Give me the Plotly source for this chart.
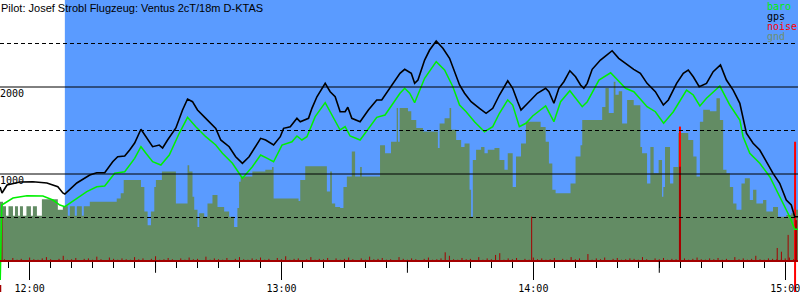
import pandas as pd
import plotly.graph_objects as go

TITLE = "Pilot: Josef Strobl Flugzeug: Ventus 2cT/18m D-KTAS"
BASE = pd.Timestamp("2000-01-01 12:00:00")

# ---- data (minutes after 12:00, altitude in m) ----
gps_min = [-7.06, -6.58, -5.39, -2.30, 0.78, 4.11, 6.72, 7.91, 8.39, 11.24, 14.33, 15.99, 17.89, 19.79, 20.98,
           22.65, 23.83, 25.02, 26.52, 27.71, 29.30, 30.89, 31.68, 32.86, 34.84, 36.43, 37.62, 38.80, 39.99, 41.96,
           44.34, 45.53, 47.53, 49.09, 50.69, 52.28, 53.85, 55.03, 56.22, 58.12, 59.71, 60.50, 62.09, 63.68, 64.47,
           66.44, 67.25, 68.44, 70.41, 71.60, 72.79, 73.97, 75.16, 75.80, 76.75, 78.73, 80.70, 82.69, 83.88, 85.85,
           88.23, 89.35, 90.92, 91.72, 92.51, 94.10, 95.29, 96.86, 98.45, 100.04, 101.23, 102.42, 103.61, 105.17,
           107.17, 108.74, 110.33, 111.92, 113.90, 115.08, 116.27, 117.06, 118.65, 119.84, 120.95, 122.93, 123.71,
           124.90, 126.08, 127.27, 128.70, 130.06, 131.24, 132.03, 132.83, 134.02, 135.99, 137.18, 138.77, 140.34,
           142.34, 143.91, 145.50, 147.09, 149.07, 150.97, 152.16, 154.13, 155.72, 156.91, 158.10, 159.52, 161.25,
           162.84, 164.58, 166.00, 167.60, 169.19, 170.76, 172.35, 173.94, 175.51, 177.10, 178.69, 180.26, 181.45,
           182.26, 183.05]
gps_alt = [850, 782, 874, 908, 911, 897, 854, 782, 770, 897, 988, 1015, 1015, 1141, 1199, 1207, 1276, 1356, 1514,
           1429, 1314, 1333, 1299, 1391, 1529, 1736, 1862, 1831, 1736, 1640, 1525, 1391, 1314, 1199, 1123, 1199, 1314,
           1410, 1391, 1333, 1429, 1525, 1544, 1640, 1601, 1640, 1755, 1888, 2042, 1946, 1888, 1716, 1716, 1767, 1640,
           1601, 1736, 1851, 1851, 1985, 2157, 2203, 2157, 2042, 2080, 2310, 2425, 2529, 2445, 2330, 2176, 2023, 1928,
           1831, 1755, 1698, 1755, 1908, 2072, 1985, 1831, 1736, 1813, 1870, 1928, 1985, 1946, 1813, 1985, 2061, 2187,
           2118, 2023, 1985, 2042, 2203, 2310, 2356, 2417, 2330, 2253, 2203, 2157, 2042, 1946, 1793, 1851, 2042, 2157,
           2195, 2118, 2003, 2042, 2176, 2253, 2080, 1965, 1813, 1468, 1353, 1276, 1141, 1008, 893, 701, 644, 509, 509]

baro_min = [-7.0, -6.65, -5.87, -3.97, -0.64, 3.16, 5.54, 7.20, 8.39, 11.24, 13.62, 15.99, 17.89, 20.27, 22.65,
            25.02, 26.52, 27.71, 29.30, 31.27, 33.27, 35.64, 37.62, 39.59, 41.96, 44.34, 45.93, 48.31, 50.69, 53.06,
            55.03, 56.63, 58.12, 60.12, 62.50, 63.68, 64.87, 66.06, 68.03, 70.41, 72.00, 73.97, 75.16, 76.35, 78.73,
            80.70, 82.69, 84.67, 88.23, 89.35, 90.54, 91.72, 94.10, 96.86, 98.85, 100.83, 102.42, 103.99, 105.98,
            108.36, 110.33, 111.92, 113.90, 115.08, 116.67, 118.24, 119.84, 122.93, 124.90, 126.49, 128.70, 131.65,
            132.85, 135.63, 138.41, 141.97, 143.94, 147.09, 149.07, 151.04, 153.35, 156.50, 158.10, 159.68, 161.25,
            164.44, 166.81, 169.19, 169.97, 171.57, 173.94, 176.32, 177.89, 179.48, 181.07, 182.26, 183.05]
baro_alt = [-218, 644, 667, 724, 751, 747, 701, 644, 624, 724, 797, 854, 862, 1008, 1026, 1180, 1314, 1238, 1141,
            1103, 1218, 1468, 1652, 1544, 1429, 1333, 1238, 1123, 951, 1084, 1218, 1180, 1141, 1333, 1371, 1437, 1391,
            1429, 1659, 1820, 1678, 1506, 1544, 1437, 1391, 1525, 1652, 1678, 1928, 1985, 1928, 1820, 2100, 2291, 2195,
            2003, 1793, 1716, 1601, 1486, 1544, 1698, 1851, 1793, 1544, 1583, 1667, 1782, 1601, 1831, 1957, 1774, 1831,
            2080, 2164, 1985, 1946, 1774, 1716, 1583, 1716, 1965, 1908, 1782, 1870, 2011, 1793, 1621, 1429, 1238, 1123,
            969, 816, 663, 509, 364, 364]

gnd_min = [-7.06, -6.34, -5.63, -5.04, -3.97, -3.49, -2.78, -2.31, -1.59, -0.76,
           0.31, 0.78, 1.73, 2.92, 6.72, 7.91, 9.10, 9.58, 10.76, 11.24,
           12.43, 12.90, 14.33, 20.75, 21.70, 22.41, 26.52, 27.33, 28.11, 28.90,
           29.70, 30.08, 31.51, 34.84, 37.62, 38.02, 38.80, 39.21, 39.99, 40.40,
           41.59, 42.37, 43.56, 44.75, 46.34, 47.53, 48.71, 49.50, 49.90, 50.28,
           53.06, 56.15, 57.74, 58.12, 64.07, 64.47, 65.66, 70.81, 71.60, 72.00,
           72.79, 73.97, 74.76, 75.57, 76.75, 77.54, 78.73, 79.13, 83.48, 84.67,
           86.09, 87.45, 87.76, 88.16, 90.13, 90.92, 92.11, 93.70, 97.26, 97.67,
           98.85, 100.04, 100.42, 101.61, 102.80, 103.61, 104.80, 105.18, 105.58, 106.36,
           107.55, 108.36, 109.14, 110.74, 111.92, 113.11, 113.90, 115.08, 115.87, 117.06,
           118.24, 121.74, 122.93, 123.71, 124.52, 125.30, 128.86, 130.06, 131.24, 131.65,
           136.40, 137.18, 137.97, 139.15, 139.56, 140.34, 141.15, 142.34, 143.91, 145.50,
           145.90, 147.09, 147.88, 148.66, 149.85, 150.66, 150.97, 151.37, 152.56, 153.35,
           154.53, 156.91, 158.10, 158.88, 159.68, 160.47, 162.06, 163.63, 164.44, 165.22,
           166.01, 166.82, 167.60, 168.39, 169.58, 170.38, 171.57, 172.35, 173.14, 174.73,
           175.51, 177.10, 178.29, 180.26, 181.45, 182.26, 183.05]
gnd_alt = [680, 630, 520, 630, 520, 630, 520, 630, 520, 630,
           520, 630, 520, 710, 590, 630, 520, 630, 520, 630,
           520, 630, 680, 720, 780, 930, 850, 570, 410, 570,
           850, 930, 1030, 660, 1100, 1030, 740, 590, 390, 550,
           510, 660, 760, 620, 570, 510, 390, 610, 910, 970,
           1030, 1050, 1080, 720, 690, 930, 1090, 800, 1030, 660,
           620, 610, 850, 970, 1260, 970, 1080, 970, 1330, 1240,
           1370, 1760, 1370, 1760, 1720, 1620, 1530, 1490, 1300, 1580,
           1640, 1760, 1510, 1390, 1310, 1350, 820, 510, 1160, 1280,
           1310, 1240, 1280, 1300, 1160, 1050, 1240, 850, 1200, 1350,
           1600, 1540, 1370, 1120, 820, 780, 890, 1200, 1330, 1620,
           1770, 1990, 1700, 2060, 1910, 1950, 1580, 1850, 1790, 1310,
           1240, 890, 1310, 1010, 1160, 740, 850, 1310, 890, 1080,
           1470, 1390, 1200, 970, 1600, 1740, 1720, 1870, 1620, 1050,
           1010, 850, 660, 590, 890, 950, 700, 820, 660, 700,
           570, 620, 510, 530, 550, 590, 590]

# small noise bars (dark red, 1 px)
noise_min = [-6, -5, -4, -3, -2, -1, 0, 1, 2, 3, 4, 5, 6, 7, 8, 9, 10, 11, 12, 13, 14, 15, 16, 17, 18, 19, 20,
             21, 22, 23, 24, 25, 26, 27, 28, 29, 30, 31, 32, 33, 34, 35, 36, 37, 38, 39, 40, 41, 42, 43, 44, 45,
             46, 47, 48, 49, 50, 51, 52, 53, 54, 55, 56, 57, 58, 59, 60, 61, 62, 63, 64, 65, 66, 67, 68, 69, 70,
             71, 72, 73, 74, 75, 76, 77, 78, 79, 80, 81, 82, 83, 84, 85, 86, 87, 88, 89, 90, 91, 92, 93, 94, 95,
             96, 97, 98, 99, 100, 101, 102, 103, 104, 105, 106, 107, 108, 109, 110, 111, 112, 113, 114, 115, 116,
             117, 118, 119, 120, 121, 122, 123, 124, 125, 126, 127, 128, 129, 130, 131, 132, 133, 134, 135, 136,
             137, 138, 139, 140, 141, 142, 143, 144, 145, 146, 147, 148, 149, 150, 151, 152, 153, 154, 155, 156,
             157, 158, 159, 160, 161, 162, 163, 164, 165, 166, 167, 168, 169, 170, 171, 172, 173, 174, 175, 176,
             177, 178, 179, 180, 181, 182, -6.58, 119.6, 178.1, 179.1, 180.7]
noise_val = [20, 10, 35, 15, 25, 10, 40, 20, 15, 30,
             45, 20, 10, 25, 60, 15, 20, 35, 10, 25,
             30, 15, 50, 20, 10, 40, 25, 15, 30, 20,
             15, 45, 20, 30, 10, 25, 55, 15, 20, 35,
             20, 10, 30, 15, 40, 20, 25, 10, 50, 15,
             30, 20, 15, 35, 10, 25, 45, 20, 15, 30,
             20, 40, 15, 25, 10, 35, 20, 55, 15, 25,
             30, 10, 20, 45, 15, 25, 20, 35, 10, 30,
             15, 25, 40, 20, 10, 30, 15, 50, 20, 25,
             35, 15, 20, 10, 45, 25, 15, 30, 20, 10,
             25, 40, 15, 20, 30, 100, 60, 20, 15, 35,
             20, 25, 10, 45, 15, 30, 20, 70, 90, 15,
             30, 20, 35, 10, 25, 15, 40, 20, 30, 15,
             20, 35, 10, 25, 15, 45, 20, 30, 10, 80,
             15, 30, 20, 40, 10, 25, 35, 15, 20, 30,
             25, 15, 45, 20, 10, 30, 20, 35, 15, 25,
             20, 10, 30, 15, 25, 40, 20, 15, 30, 20,
             35, 15, 25, 10, 45, 20, 30, 15, 25, 60,
             20, 15, 30, 25, 20, 15, 30, 40, 20,
             500, 510, 150, 107, 300]

# wide dark-red noise bars (2 px): base, top
wide_noise_min = [154.93, 182.6, -7.0]
wide_noise_base = [0, 0, -356]
wide_noise_top = [1084, 470, -276]

# bright red noise spikes: base, top
red_spike_min = [154.93, 182.35]
red_spike_base = [0, -356]
red_spike_top = [1545, 1371]

flight_start_min = 8.39          # start of the blue region
x_range_min = [-7.06, 183.05]
y_range = [-448, 3000]
grid_solid = [1000, 2000]
grid_dashed = [500, 1500, 2500]
y_tick_vals = [1000, 2000]
y_tick_text = ["1000", "2000"]
half_hour_min = [30, 90, 150]
legend_names = ["baro", "gps", "noise", "gnd"]

assert len(gps_min) == len(gps_alt)
assert len(baro_min) == len(baro_alt)
assert len(gnd_min) == len(gnd_alt)
assert len(noise_min) == len(noise_val)

# ---- styles ----
BLUE = "#5a9bff"
GND = "#638c64"
GREEN = "#00f000"
DARKRED = "#a40000"
RED = "#ff0000"
MONO = "DejaVu Sans Mono"
legend_colors = [GREEN, "#000000", RED, "#6f8f6f"]


def T(mins):
    return [BASE + pd.Timedelta(minutes=float(m)) for m in mins]


def segments(mins, bases, tops):
    xs, ys = [], []
    for t, b, v in zip(T(mins), bases, tops):
        xs += [t, t, None]
        ys += [b, v, None]
    return xs, ys


fig = go.Figure()
fig.add_trace(go.Scatter(x=T(gnd_min), y=gnd_alt, mode="lines", line=dict(width=0, shape="hv"),
                         fill="tozeroy", fillcolor=GND, hoverinfo="skip"))
xs, ys = segments(red_spike_min, red_spike_base, red_spike_top)
fig.add_trace(go.Scatter(x=xs, y=ys, mode="lines", line=dict(color=RED, width=2)))
xs, ys = segments(noise_min, [0] * len(noise_min), noise_val)
fig.add_trace(go.Scatter(x=xs, y=ys, mode="lines", line=dict(color=DARKRED, width=1)))
xs, ys = segments(wide_noise_min, wide_noise_base, wide_noise_top)
fig.add_trace(go.Scatter(x=xs, y=ys, mode="lines", line=dict(color=DARKRED, width=2)))
fig.add_trace(go.Scatter(x=T(baro_min), y=baro_alt, mode="lines", line=dict(color=GREEN, width=1.5)))
fig.add_trace(go.Scatter(x=T(gps_min), y=gps_alt, mode="lines", line=dict(color="black", width=1.6)))

shapes = [dict(type="rect", xref="x", yref="y", x0=T([flight_start_min])[0], x1=T([x_range_min[1] + 1])[0],
               y0=0, y1=y_range[1] + 100, fillcolor=BLUE, line=dict(width=0), layer="below")]
for v in grid_solid:
    shapes.append(dict(type="line", xref="paper", x0=0, x1=1, yref="y", y0=v, y1=v,
                       line=dict(color="black", width=1)))
for v in grid_dashed:
    shapes.append(dict(type="line", xref="paper", x0=0, x1=1, yref="y", y0=v, y1=v,
                       line=dict(color="black", width=1, dash="4px,3px")))
for m in half_hour_min:
    t = T([m])[0]
    shapes.append(dict(type="line", xref="x", x0=t, x1=t, yref="y", y0=0, y1=-135,
                       line=dict(color="black", width=1)))

annotations = [dict(text=TITLE, xref="paper", yref="paper", x=0, y=1, xanchor="left", yanchor="top",
                    showarrow=False, font=dict(family="Liberation Sans, Arial", size=11, color="black"),
                    xshift=-1, yshift=0)]
for v, s in zip(y_tick_vals, y_tick_text):
    annotations.append(dict(text=s, xref="paper", yref="y", x=0, y=v, xanchor="left", yanchor="top",
                            showarrow=False, font=dict(family=MONO, size=10, color="black"), xshift=-2, yshift=1))
for i, (name, col) in enumerate(zip(legend_names, legend_colors)):
    annotations.append(dict(text=name, xref="paper", yref="paper", x=769 / 800, y=1 - (7 + 10 * i) / 300,
                            xanchor="left", yanchor="middle", showarrow=False,
                            font=dict(family=MONO, size=10, color=col), xshift=-2))

fig.update_layout(
    width=800, height=300, margin=dict(l=0, r=0, t=0, b=0),
    plot_bgcolor="white", paper_bgcolor="white", showlegend=False,
    shapes=shapes, annotations=annotations,
    xaxis=dict(type="date", range=T(x_range_min), showgrid=False, zeroline=False,
               anchor="free", position=(0 - y_range[0]) / (y_range[1] - y_range[0]),
               showline=True, linecolor=DARKRED, linewidth=2,
               ticks="outside", ticklen=18, tickwidth=1, tickcolor="black",
               tick0=BASE, dtick=3600000, tickformat="%H:%M", ticklabeloverflow="allow",
               tickfont=dict(family=MONO, size=10, color="black"),
               minor=dict(ticks="outside", ticklen=6, tickwidth=1, tickcolor="black",
                          dtick=300000, tick0=BASE, showgrid=False)),
    yaxis=dict(range=y_range, visible=False, showgrid=False, zeroline=False),
)

fig.write_html("out.html")
